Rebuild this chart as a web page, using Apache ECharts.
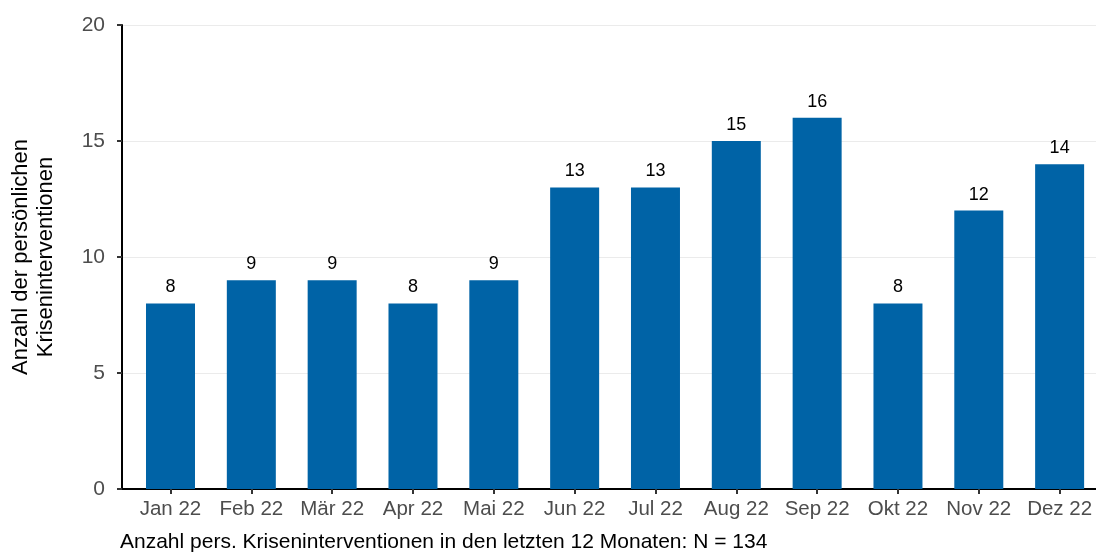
<!DOCTYPE html>
<html>
<head>
<meta charset="utf-8">
<script src="https://cdn.jsdelivr.net/npm/echarts@6/dist/echarts.min.js"></script>
<style>
html, body { margin: 0; padding: 0; background: #fff; }
#chart { width: 1096px; height: 552px; }
</style>
</head>
<body>
<div id="chart"></div>
<script>
var months = ['Jan 22', 'Feb 22', 'Mär 22', 'Apr 22', 'Mai 22', 'Jun 22', 'Jul 22', 'Aug 22', 'Sep 22', 'Okt 22', 'Nov 22', 'Dez 22'];
var counts = [8, 9, 9, 8, 9, 13, 13, 15, 16, 8, 12, 14];
var yTicks = [0, 5, 10, 15, 20];
var caption = 'Anzahl pers. Kriseninterventionen in den letzten 12 Monaten: N = 134';

var positions = months.map(function (m, i) { return i + 1; });
var barData = counts.map(function (v, i) { return [i + 1, v]; });

var font = 'Liberation Sans, Arial, sans-serif';
var chart = echarts.init(document.getElementById('chart'));

chart.setOption({
    animation: false,
    title: {
        text: caption,
        left: 115,
        top: 527,
        padding: 5,
        textStyle: { fontFamily: font, fontSize: 21, fontWeight: 'normal', color: '#000' }
    },
    grid: { left: 120, right: 0, top: 25, bottom: 63 },
    xAxis: {
        type: 'value',
        min: 0.4,
        max: 12.45,
        splitLine: { show: false },
        axisLine: { show: true, onZero: false, lineStyle: { color: '#000', width: 2 } },
        axisTick: { show: true, length: 5, customValues: positions, lineStyle: { color: '#333', width: 2 } },
        axisLabel: {
            customValues: positions,
            margin: 10,
            fontFamily: font,
            fontSize: 20.5,
            color: '#4d4d4d',
            formatter: function (v) { return months[Math.round(v) - 1]; }
        }
    },
    yAxis: {
        type: 'value',
        min: 0,
        max: 20,
        interval: 5,
        name: 'Anzahl der persönlichen\nKriseninterventionen',
        nameLocation: 'middle',
        nameGap: 64,
        nameTextStyle: { fontFamily: font, fontSize: 22, color: '#000', lineHeight: 25 },
        axisLine: { show: true, lineStyle: { color: '#000', width: 2 } },
        axisTick: { show: true, length: 5, lineStyle: { color: '#333', width: 2 } },
        axisLabel: {
            margin: 17,
            fontFamily: font,
            fontSize: 21,
            color: '#4d4d4d',
            formatter: function (v) { return yTicks.indexOf(v) >= 0 ? String(v) : ''; }
        },
        splitLine: { show: true, lineStyle: { color: '#ebebeb', width: 1 } }
    },
    series: [{
        type: 'bar',
        data: barData,
        barWidth: 49,
        itemStyle: { color: '#0063a6' },
        label: {
            show: true,
            position: 'top',
            distance: 7,
            fontFamily: font,
            fontSize: 18,
            color: '#000',
            formatter: function (p) { return p.value[1]; }
        }
    }]
});
</script>
</body>
</html>
